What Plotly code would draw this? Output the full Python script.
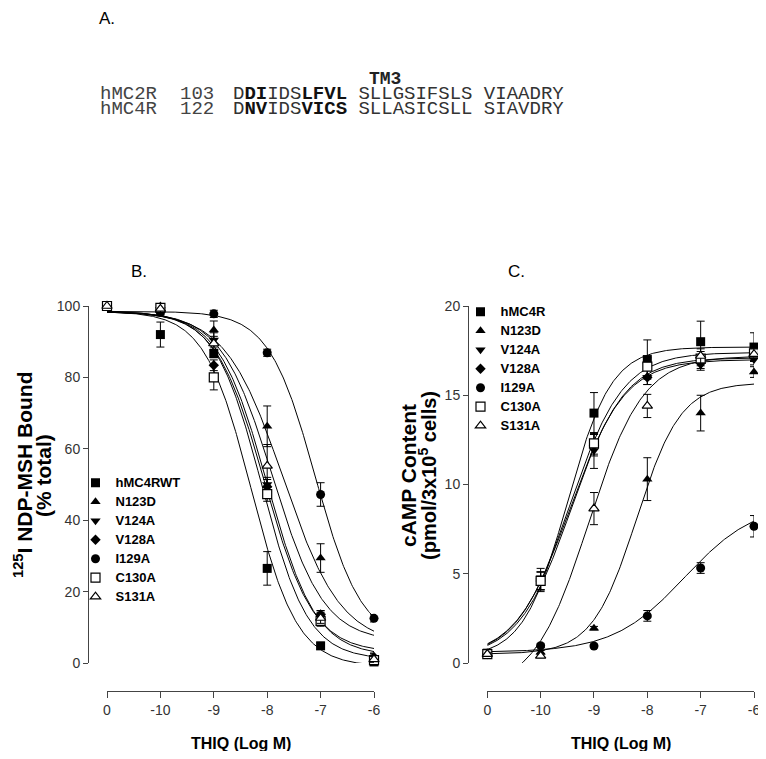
import numpy as np
import plotly.graph_objects as go

# ---------------- data ----------------
x_pos = [-11, -10, -9, -8, -7, -6]          # position "0" = no THIQ, plotted at -11
x_ticktext = ["0", "-10", "-9", "-8", "-7", "-6"]

names_b = ["hMC4RWT", "N123D", "V124A", "V128A", "I129A", "C130A", "S131A"]
names_c = ["hMC4R", "N123D", "V124A", "V128A", "I129A", "C130A", "S131A"]

# Panel B: 125I NDP-MSH bound (% total)
b_hMC4RWT = [100, 92.0, 86.7, 26.5, 4.8, 0.3]
b_N123D   = [100, 100.0, 93.3, 66.3, 29.4, 1.8]
b_V124A   = [100, 99.0, 90.5, 50.0, 13.2, 1.2]
b_V128A   = [100, 98.6, 83.4, 49.4, 13.6, 1.6]
b_I129A   = [100, 98.2, 97.8, 86.9, 47.2, 12.5]
b_C130A   = [100, 99.5, 80.0, 47.3, 11.8, 0.8]
b_S131A   = [100, 99.2, 89.5, 55.2, 12.6, 1.0]
b_err_hMC4RWT = [0.5, 3.5, 1.2, 4.7, 1.0, 0.5]
b_err_N123D   = [0.5, 1.0, 2.5, 5.7, 4.0, 1.0]
b_err_V124A   = [0.5, 1.0, 2.0, 2.0, 1.5, 1.0]
b_err_V128A   = [0.5, 1.0, 1.5, 2.0, 1.0, 1.0]
b_err_I129A   = [0.5, 1.0, 1.0, 1.0, 3.3, 1.0]
b_err_C130A   = [0.5, 1.0, 3.5, 2.0, 1.5, 0.5]
b_err_S131A   = [0.5, 1.0, 2.0, 6.0, 1.5, 0.8]
# fitted one-site competition curves: top, bottom, logIC50, hill
b_fit_top     = [98.5, 98.5, 98.5, 98.5, 98.5, 98.5, 98.5]
b_fit_bottom  = [-1.0, 5.0, 2.0, 3.0, 6.0, 1.0, 6.0]
b_fit_logic50 = [-8.3, -7.7, -8.0, -8.05, -7.1, -8.1, -7.9]
b_fit_hill    = [1.0, 0.8, 0.95, 0.95, 1.0, 1.0, 0.9]

# Panel C: cAMP content (pmol/3x10^5 cells)
c_hMC4R = [0.55, 4.65, 14.0, 17.0, 18.0, 17.7]
c_N123D = [0.5, 0.6, 1.95, 10.3, 14.0, 16.3]
c_V124A = [0.5, 4.6, 11.9, 16.0, 16.7, 17.0]
c_V128A = [0.5, 4.6, 12.2, 16.0, 16.8, 17.2]
c_I129A = [0.55, 0.97, 0.95, 2.64, 5.32, 7.66]
c_C130A = [0.5, 4.6, 12.3, 16.6, 17.05, 17.35]
c_S131A = [0.5, 0.4, 8.65, 14.4, 17.2, 17.3]
c_err_hMC4R = [0.2, 0.65, 1.15, 1.1, 1.15, 0.8]
c_err_N123D = [0.1, 0.1, 0.1, 1.2, 1.0, 0.3]
c_err_V124A = [0.1, 0.5, 1.0, 0.4, 0.3, 0.3]
c_err_V128A = [0.1, 0.5, 0.6, 0.4, 0.3, 0.3]
c_err_I129A = [0.1, 0.1, 0.1, 0.3, 0.3, 0.6]
c_err_C130A = [0.1, 0.5, 0.6, 0.5, 0.4, 0.4]
c_err_S131A = [0.1, 0.1, 0.9, 0.65, 0.4, 0.4]
# fitted sigmoidal dose-response: bottom, top, logEC50, hill
c_fit_bottom  = [0.3, 0.5, 0.3, 0.3, 0.6, 0.3, -1.5]
c_fit_top     = [17.7, 15.7, 17.0, 17.1, 9.0, 17.4, 17.2]
c_fit_logec50 = [-9.5, -8.2, -9.45, -9.42, -7.3, -9.45, -9.1]
c_fit_hill    = [1.05, 1.05, 0.85, 0.87, 0.65, 0.87, 0.85]

b_values = [b_hMC4RWT, b_N123D, b_V124A, b_V128A, b_I129A, b_C130A, b_S131A]
b_errors = [b_err_hMC4RWT, b_err_N123D, b_err_V124A, b_err_V128A, b_err_I129A, b_err_C130A, b_err_S131A]
c_values = [c_hMC4R, c_N123D, c_V124A, c_V128A, c_I129A, c_C130A, c_S131A]
c_errors = [c_err_hMC4R, c_err_N123D, c_err_V124A, c_err_V128A, c_err_I129A, c_err_C130A, c_err_S131A]

# sequence alignment text (segments: plain, bold, plain, bold, plain)
seq_names = ["hMC2R", "hMC4R"]
seq_starts = ["103", "122"]
seq_segments = [["D", "DI", "IDS", "LFVL", " SLLGSIFSLS VIAADRY"],
                ["D", "NV", "IDS", "VICS", " SLLASICSLL SIAVDRY"]]

# ---------------- style ----------------
# page body has an 8px default margin: the figure sits at (8, 8)
OFF = 8
W, H = 766 - OFF, 759 - 2 * OFF
def px(v):
    return (v - OFF) / W
def py(v):
    return 1 - (v - OFF) / H

SANS = "Liberation Sans, Arial, sans-serif"
MONO = "Liberation Mono, Courier New, monospace"
AX = "#444"

symbols = ["square", "triangle-up", "triangle-down", "diamond", "circle", "square", "triangle-up"]
open_fill = [False, False, False, False, False, True, True]
msizes = [9, 9, 9, 8, 9, 9, 9]

fig = go.Figure()
xs = np.linspace(-11, -6, 300)

# curves
for i in range(7):
    yb = b_fit_bottom[i] + (b_fit_top[i] - b_fit_bottom[i]) / (1 + 10 ** ((xs - b_fit_logic50[i]) * b_fit_hill[i]))
    fig.add_trace(go.Scatter(x=xs, y=yb, mode="lines", line=dict(color="black", width=1),
                             showlegend=False, hoverinfo="skip", xaxis="x", yaxis="y"))
    yc = c_fit_bottom[i] + (c_fit_top[i] - c_fit_bottom[i]) / (1 + 10 ** ((c_fit_logec50[i] - xs) * c_fit_hill[i]))
    fig.add_trace(go.Scatter(x=xs, y=yc, mode="lines", line=dict(color="black", width=1),
                             showlegend=False, hoverinfo="skip", xaxis="x2", yaxis="y2"))

def marker(i):
    if open_fill[i]:
        return dict(symbol=symbols[i], size=msizes[i], color="white", line=dict(color="black", width=1.2))
    return dict(symbol=symbols[i], size=msizes[i], color="black", line=dict(color="black", width=0))

# points (legend entries)
for i in range(7):
    fig.add_trace(go.Scatter(
        x=x_pos, y=b_values[i], mode="markers", marker=marker(i),
        error_y=dict(type="data", array=b_errors[i], color="black", thickness=1, width=4),
        name="<span style='font-size:13px'>" + names_b[i] + "</span>",
        legend="legend", cliponaxis=False, xaxis="x", yaxis="y"))
for i in range(7):
    fig.add_trace(go.Scatter(
        x=x_pos, y=c_values[i], mode="markers", marker=marker(i),
        error_y=dict(type="data", array=c_errors[i], color="black", thickness=1, width=4),
        name="<span style='font-size:13px'>" + names_c[i] + "</span>",
        legend="legend2", cliponaxis=False, xaxis="x2", yaxis="y2"))

tickfont = dict(family=SANS, size=14, color="#333")
common_x = dict(range=[-11, -6], tickvals=x_pos, ticktext=x_ticktext, anchor="free",
                position=py(691), ticks="outside", ticklen=6, tickcolor=AX, tickwidth=1,
                showline=True, linecolor=AX, linewidth=1, showgrid=False, zeroline=False,
                tickfont=tickfont, fixedrange=True)
common_y = dict(anchor="free", ticks="outside", ticklen=5, tickcolor=AX, tickwidth=1,
                showline=True, linecolor=AX, linewidth=1, showgrid=False, zeroline=False,
                tickfont=tickfont, domain=[py(663), py(306)], fixedrange=True)

legend_common = dict(xanchor="left", yanchor="top", bgcolor="rgba(0,0,0,0)",
                     font=dict(family=SANS, size=11, color="black", weight="bold"),
                     itemwidth=30, tracegroupgap=0, traceorder="normal")

annotations = []
def ann(text, x, y, size, family=SANS, weight="normal", xanchor="left", angle=0, color="black"):
    annotations.append(dict(text=text, x=px(x), y=py(y), xref="paper", yref="paper",
                            xanchor=xanchor, yanchor="middle", showarrow=False, textangle=angle,
                            font=dict(family=family, size=size, color=color, weight=weight)))

ann("A.", 97, 18, 17)
ann("B.", 129, 271, 17)
ann("C.", 506, 271, 17)
ann("TM3", 367, 79, 18, family=MONO, weight="bold", color="#222")

def bold(s, size=19):
    return "<span style='font-weight:bold;font-size:%dpx;color:#111'>%s</span>" % (size, s)

seq_rows_y = [94, 109]
for k in range(2):
    segs = seq_segments[k]
    seq_html = segs[0] + bold(segs[1]) + segs[2] + bold(segs[3]) + segs[4]
    ann(seq_names[k], 98, seq_rows_y[k], 19, family=MONO, color="#444")
    ann(seq_starts[k], 177.5, seq_rows_y[k], 19, family=MONO, color="#444")
    ann(seq_html, 230.5, seq_rows_y[k], 19, family=MONO, color="#333")

ann("<sup>125</sup>I NDP-MSH Bound", 23, 475, 21, weight="bold", xanchor="center", angle=-90)
ann("(% total)", 43, 476, 21, weight="bold", xanchor="center", angle=-90)
ann("cAMP Content", 408, 476, 21, weight="bold", xanchor="center", angle=-90)
ann("(pmol/3x10<sup>5</sup> cells)", 427, 476, 20, weight="bold", xanchor="center", angle=-90)
ann("THIQ (Log M)", 240.5, 743, 16, weight="bold", xanchor="center")
ann("THIQ (Log M)", 620.5, 743, 16, weight="bold", xanchor="center")

fig.update_layout(
    width=W, height=H, margin=dict(l=0, r=0, t=0, b=0),
    paper_bgcolor="white", plot_bgcolor="white", template="none",
    xaxis=dict(domain=[px(107), px(374)], **common_x),
    yaxis=dict(range=[0, 100], tickvals=[0, 20, 40, 60, 80, 100], position=px(88), **common_y),
    xaxis2=dict(domain=[px(487.3), px(754)], **common_x),
    yaxis2=dict(range=[0, 20], tickvals=[0, 5, 10, 15, 20], position=px(468), **common_y),
    legend=dict(x=px(75.5), y=py(468.2), **legend_common),
    legend2=dict(x=px(460.5), y=py(297.2), **legend_common),
    annotations=annotations,
    showlegend=True,
)

fig.write_html("out.html")
